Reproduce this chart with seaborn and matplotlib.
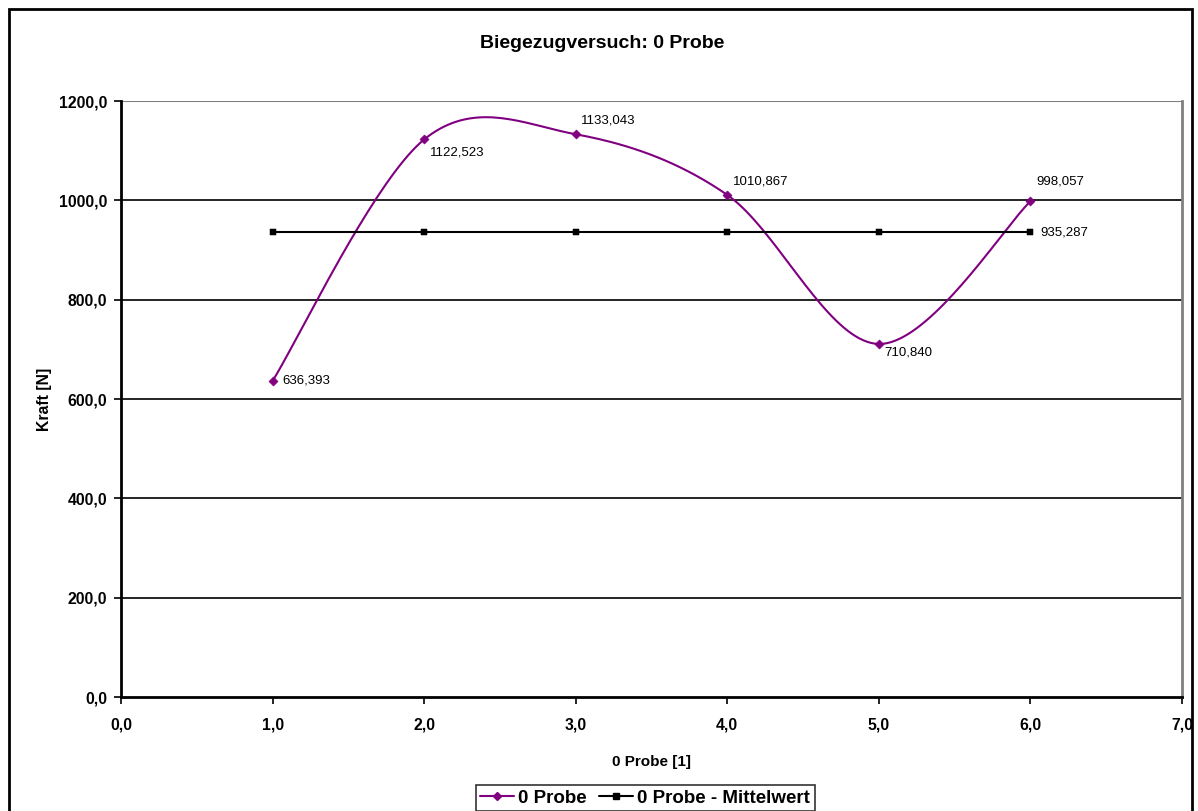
import numpy as np
import pandas as pd
import matplotlib
matplotlib.use("Agg")
import matplotlib.pyplot as plt
import seaborn as sns
from matplotlib.patches import Rectangle
from matplotlib.lines import Line2D

x_vals = [1, 2, 3, 4, 5, 6]
kraft = [636.393, 1122.523, 1133.043, 1010.867, 710.840, 998.057]
mittel = [935.287] * 6
x_ticks = [0, 1, 2, 3, 4, 5, 6, 7]
y_ticks = [0, 200, 400, 600, 800, 1000, 1200]

sns.set_theme(style="white")
plt.rcParams['font.family'] = ['Liberation Sans', 'DejaVu Sans']
plt.rcParams.update({"text.color": "black", "axes.labelcolor": "black",
                     "xtick.color": "black", "ytick.color": "black"})

fig = plt.figure(figsize=(11.98, 8.11), dpi=100)
ax = fig.add_axes([121/1198, 1-697/811, (1182-121)/1198, (697-101)/811])

# Excel-style smoothed rendering (Bezier through data points)
def smooth(xs, ys, n=40):
    P = np.column_stack([xs, ys]).astype(float)
    out = []
    for i in range(len(P) - 1):
        p0 = P[i - 1] if i > 0 else P[i]
        p1, p2 = P[i], P[i + 1]
        p3 = P[i + 2] if i + 2 < len(P) else P[i + 1]
        c1 = p1 + (p2 - p0) / 6
        c2 = p2 - (p3 - p1) / 6
        t = np.linspace(0, 1, n)[:, None]
        seg = (1-t)**3*p1 + 3*(1-t)**2*t*c1 + 3*(1-t)*t**2*c2 + t**3*p2
        out.append(seg if i == 0 else seg[1:])
    return np.vstack(out)

curve = smooth(x_vals, kraft)
dfc = pd.DataFrame({"x": curve[:, 0], "y": curve[:, 1]})
purple = "#800080"

for yv in y_ticks[1:-1]:
    ax.axhline(yv, color="black", lw=1.2, zorder=0)
ax.axhline(1200, color="#808080", lw=1.5, zorder=0)

sns.lineplot(data=dfc, x="x", y="y", sort=False, color=purple, lw=1.5, ax=ax, estimator=None)
sns.scatterplot(x=x_vals, y=kraft, marker="D", s=22, color=purple, edgecolor=purple, ax=ax, zorder=3)
sns.lineplot(x=x_vals, y=mittel, color="black", lw=1.5, ax=ax, estimator=None)
sns.scatterplot(x=x_vals, y=mittel, marker="s", s=20, color="black", edgecolor="black", ax=ax, zorder=3)

offsets = [(7, 0), (4, -9.5), (4, 10), (4, 9.5), (4, -6.5), (4, 14)]
for xv, yv, (dx, dy) in zip(x_vals, kraft, offsets):
    ax.annotate(f"{yv:.3f}".replace(".", ","), (xv, yv), xytext=(dx, dy),
                textcoords="offset points", fontsize=9.5, va="center", ha="left")
ax.annotate(f"{mittel[-1]:.3f}".replace(".", ","), (x_vals[-1], mittel[-1]), xytext=(7, 0),
            textcoords="offset points", fontsize=9.5, va="center", ha="left")

ax.set_xlim(0, 7)
ax.set_ylim(0, 1200)
ax.set_xticks(x_ticks)
ax.set_yticks(y_ticks)
ax.set_xticklabels([f"{v:.1f}".replace(".", ",") for v in x_ticks], fontweight="bold", fontsize=11.3)
ax.set_yticklabels([f"{v:.1f}".replace(".", ",") for v in y_ticks], fontweight="bold", fontsize=11.3)
ax.tick_params(axis="both", direction="out", length=5, width=1.2, color="black", bottom=True, left=True)
ax.tick_params(axis="y", pad=5)
ax.tick_params(axis="x", pad=10)
for s in ["left", "bottom"]:
    ax.spines[s].set_color("black")
    ax.spines[s].set_linewidth(2)
ax.spines["top"].set_visible(False)
ax.spines["right"].set_color("#808080")
ax.spines["right"].set_linewidth(2)
ax.set_xlabel("0 Probe [1]", fontweight="bold", fontsize=11, labelpad=16)
ax.set_ylabel("Kraft [N]", fontweight="bold", fontsize=11.3, labelpad=5)
fig.text(602/1198, 1-43/811, "Biegezugversuch: 0 Probe", ha="center", va="center",
         fontweight="bold", fontsize=14)

handles = [Line2D([], [], color=purple, marker="D", markersize=4, lw=1.5),
           Line2D([], [], color="black", marker="s", markersize=4, lw=1.5)]
leg = fig.legend(handles, ["0 Probe", "0 Probe - Mittelwert"], loc="center",
                 bbox_to_anchor=(645/1198, 1-798/811), ncol=2, frameon=True,
                 prop={"weight": "bold", "size": 13.5}, handlelength=1.8,
                 handletextpad=0.2, columnspacing=0.7, borderpad=0.25, fancybox=False)
leg.get_frame().set_edgecolor("black")
leg.get_frame().set_linewidth(1.2)

fig.patches.append(Rectangle((9/1198, -0.01), (1192-9)/1198, 1-9/811+0.01, transform=fig.transFigure,
                             fill=False, edgecolor="black", lw=2, zorder=-1))

fig.savefig("out.png", dpi=100)
